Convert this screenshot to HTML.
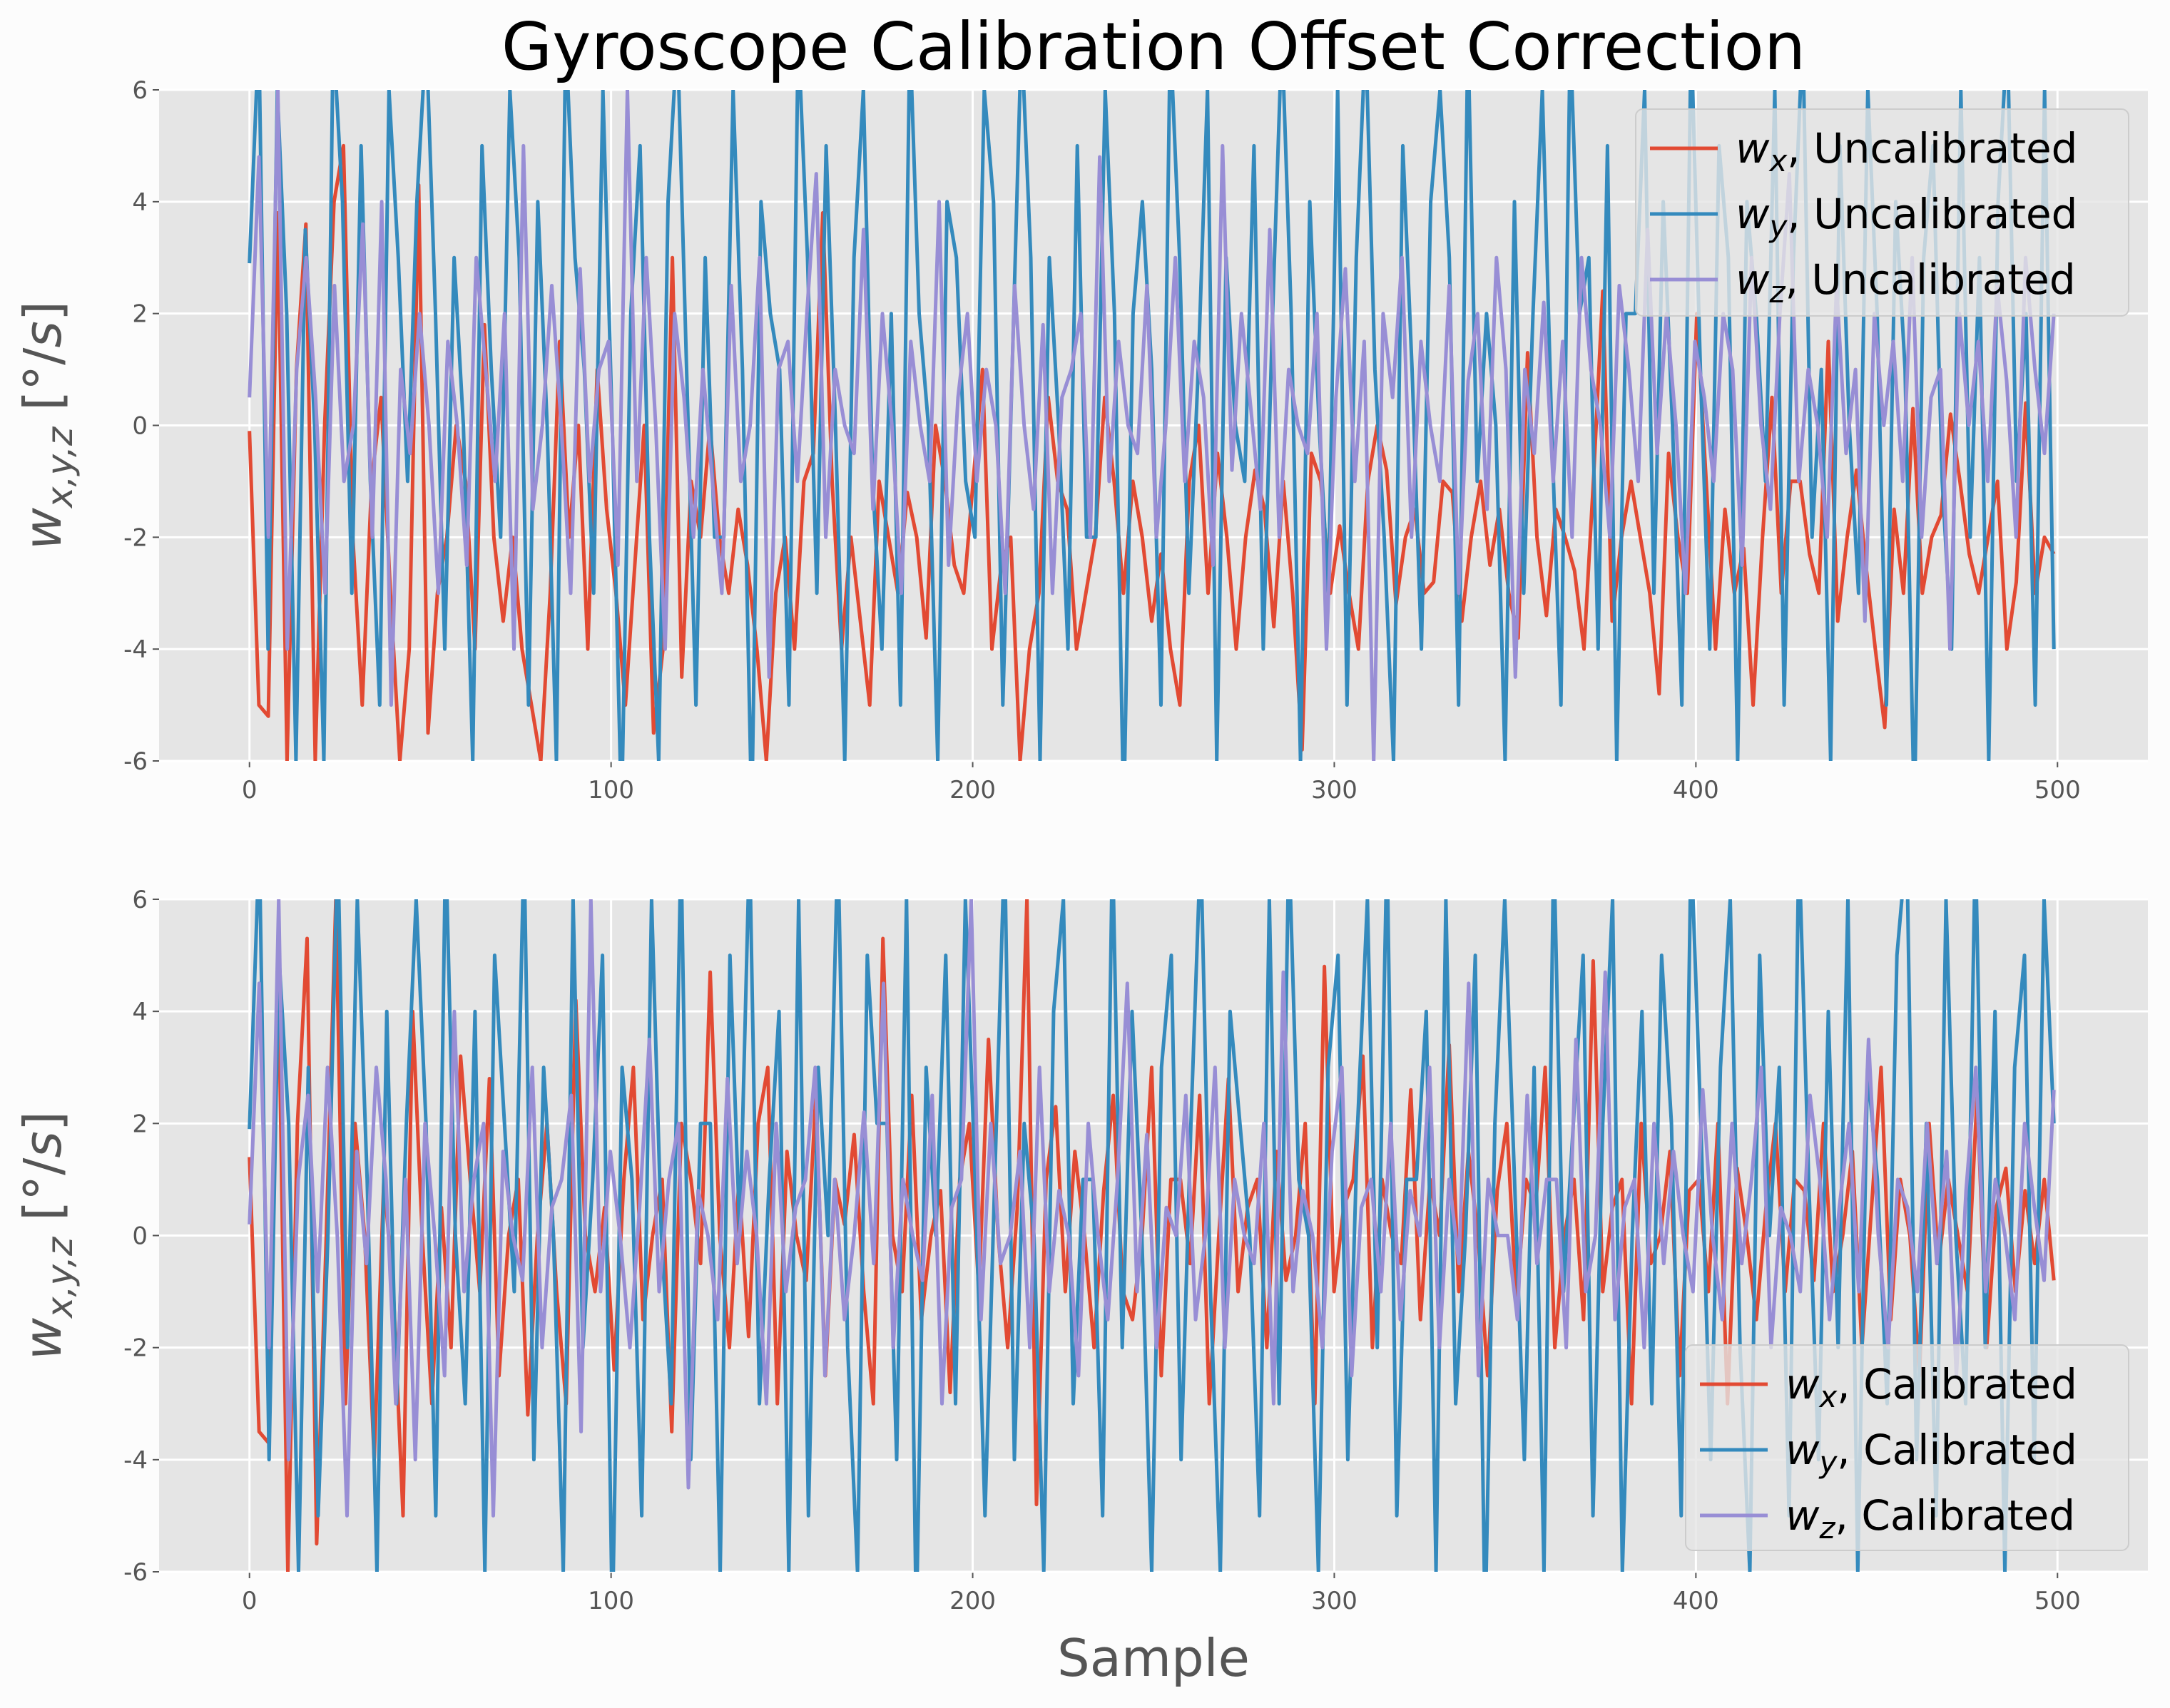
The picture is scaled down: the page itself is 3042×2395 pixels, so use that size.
<!DOCTYPE html>
<html><head><meta charset="utf-8"><style>
html,body{margin:0;padding:0;background:#fcfcfc;}
svg{display:block;font-family:"DejaVu Sans","Liberation Sans",sans-serif;}
</style></head><body>
<svg id="fig" width="3042" height="2395" viewBox="0 0 3042 2395" xmlns="http://www.w3.org/2000/svg">
<rect width="3042" height="2395" fill="#fcfcfc"/>
<text x="1617" y="97" font-size="92" text-anchor="middle" fill="#000">Gyroscope Calibration Offset Correction</text>
<text x="1617" y="2350" font-size="72" text-anchor="middle" fill="#555">Sample</text>
<g id="plots"></g>
</svg>
<script>
const NS='http://www.w3.org/2000/svg';
const xTicks=[0,100,200,300,400,500];
const yTicks=[-6,-4,-2,0,2,4,6];
const wxUncal=[-0.1,-5,-5.2,3.8,-6,1,3.6,-6,0,4,5,-2,-5,-1,0.5,-3,-6,-4,4.3,-5.5,-3,-2,0,-1,-4,1.8,-2,-3.5,-2,-4,-5,-6,-3,1.5,-2,0,-4,1,-1.5,-3,-5,-2.5,0,-5.5,-4,3,-4.5,-1,-2,0,-2,-3,-1.5,-2.5,-4,-6,-3,-2,-4,-1,-0.5,3.8,-1,-4,-2,-3.5,-5,-1,-2,-3,-1.2,-2,-3.8,0,-1,-2.5,-3,-1,1,-4,-2.5,-2,-6,-4,-3,0.5,-1,-1.5,-4,-3,-2,0.5,-1,-3,-1,-2,-3.5,-2.3,-4,-5,-1,0,-3,-0.5,-2,-4,-2,-0.8,-1.5,-3.6,-1,-3,-5.8,-0.5,-1,-3,-1.8,-3,-4,-1,0,-0.8,-3.2,-2,-1.5,-3,-2.8,-1,-1.2,-3.5,-2,-1,-2.5,-1.5,-3,-3.8,1.3,-2,-3.4,-1.5,-2,-2.6,-4,-1,2.4,-3.5,-2,-1,-2,-3,-4.8,-0.5,-2,-3,2,-1,-4,-1.5,-3,-2.2,-5,-2,0.5,-3,-1,-1,-2.3,-3,1.5,-3.5,-2,-0.8,-2.5,-4,-5.4,-1.5,-3,0.3,-3,-2,-1.6,0.2,-1,-2.3,-3,-2,-1,-4,-2.8,0.4,-3,-2,-2.3];
const wyUncal=[2.9,7,-4,6,2,-6,3.5,0,-6,7,4,-3,5,-1,-5,6,3,-1,4,7,2,-4,3,0,-6,5,1,-2,6,3,-5,4,0,-6,7,3,1,-3,6,0,-7,2,5,-2,-6,4,7,1,-5,3,-2,-2,6,1,-7,4,2,1,-5,7,3,-3,5,0,-6,3,6,-1,-4,2,-5,7,2,0,-6,4,3,-1,-2,6,4,-5,1,7,3,-6,3,0,-4,5,-2,-2,6,2,-7,2,4,1,-5,7,3,-3,1,6,-6,3,0,-1,5,-4,2,7,2,-6,4,0,-3,6,-5,3,7,1,-2,-6,5,1,-4,4,6,3,-5,7,-1,2,0,-6,4,-3,2,6,0,-5,7,2,3,-4,5,-6,2,2,6,-3,4,0,-5,7,1,-4,5,3,-6,4,2,-1,6,-5,3,7,-2,1,-6,5,0,-3,6,2,-5,4,1,-7,3,5,-1,-4,6,-2,3,-6,4,7,-1,2,-5,6,-4];
const wzUncal=[0.5,4.8,-2,6,-4,1,3,0.5,-3,2.5,-1,0,3.6,-2,4,-5,1,-0.5,2,0,-3,1.5,0,-2.5,3,1,-1,2,-4,5,-1.5,0,2.5,0,-3,2.8,-1,1,1.5,-2.5,6,-1,3,0,-4,2,0.5,-2,1,-1,-3,2.5,-1,0,3,-4.5,1,1.5,-1,2,4.5,-2,1,0,-0.5,3.5,-1.5,2,0,-3,1.5,0,-1,4,-2.5,0.5,2,-1,1,0,-3,2.5,0,-1.5,1.8,-3,0.5,1,2,-2,4.8,-1,1.5,0,-0.5,2.5,-2,0,3,-1,1.5,0.5,-2.5,5,-0.8,2,0.3,-1.5,3.5,-2,1,0,-0.5,2,-4,0.5,2.8,-1,1.5,-6,2,0.5,3,-2,1.5,0,-1,2.5,-3,0.8,2,-1.5,3,1,-4.5,1,-0.5,2.2,-1,1.5,-2,3,1,0,-2,2.5,1,-1,3.5,-0.5,2,0,-3,1.5,0.5,-1,2,1,-2.5,3,0,-1.5,2,4.5,-1,1,0,-2,2.5,-0.5,1,-3.5,2,0,1.5,-1,3,-2,0.5,1,-4,2,0,1.5,-1,2.5,0.8,-2,3,1,-0.5,2];
const wxCal=[1.4,-3.5,-3.7,4.8,-6,2,5.3,-5.5,0,6,-3,2,0,-4,1,-1,-5,4,0,-3,0.5,-2,3.2,1,-1,2.8,-2.5,0,1,-3.2,0,2,-1,-3,4.2,0,-1,0.5,-2.4,1,3,-1.5,0,1,-3.5,2,1,-0.5,4.7,0,-2,1,-1.8,2,3,-3,1.5,0,-0.8,2.5,-2.5,1,0.2,1.8,-1,-3,5.3,0,-1,2.5,-1.5,0,0.8,-2.8,1,2,-1,3.5,0,-2,0.5,6,-4.8,1,2.3,-1,1.5,0,-2,0.8,2.5,-1,-1.5,0,3,-2.5,1,1,-0.5,2.5,-3,0,2.8,-1,0.5,1,-2,1.5,-0.8,0,2,-3,4.8,-1,0.5,1,3.2,-2,1,0,-0.5,2.6,-1.5,1,0,3.4,-1,1.5,0,-2.5,0.8,2,-1.2,1,0.5,3,-2,0,1,-1.5,4.9,-1,0.5,1,-3,2,-0.5,0,1.5,-2.5,0.8,1,-1,2,-3,1.2,0,-1.5,0.5,2,-1,1,0.8,-0.8,2,-1,0,1.5,-2,0.5,3,-1.5,1,0,-2.5,2,-0.5,1,0,-1,2.5,-2,0.5,1.2,-1,0.8,-0.5,1,-0.8];
const wyCal=[1.9,7,-4,5,2,-6,3,-5,0,7,-2,6,1,-6,4,-3,2,6,2,-5,7,0,-3,4,-6,5,2,-1,7,-4,3,0,-6,6,-2,1,5,-7,3,1,-5,6,0,-3,7,-4,2,2,-6,5,0,7,-3,1,4,-6,6,-5,3,0,7,-2,-6,5,2,2,-4,6,-7,3,0,5,-3,6,1,-5,1,7,-4,2,0,-6,4,6,-3,1,1,-5,7,-2,4,0,-6,3,5,-4,2,7,-1,-6,4,2,0,-5,6,-3,7,1,0,-6,3,5,-4,2,6,-2,7,-5,1,1,4,-6,6,-3,0,5,-7,2,6,1,-4,3,-6,7,-1,2,5,-5,2,6,-6,0,4,-3,5,2,-5,7,2,-4,3,6,-2,-6,5,0,3,-5,7,1,-4,4,-2,6,-6,3,1,-3,5,7,-4,2,-5,6,0,-3,7,-2,4,-6,3,5,-4,6,2];
const wzCal=[0.2,4.5,-2,6,-4,1,2.5,-1,3,0,-5,1.5,-0.5,3,1,-3,1,-4,2,0,-2.5,4,-1,1,2,-5,1.5,0,-0.8,3,-2,0.5,1,2.5,-3.5,6,-1,1.5,0,-2,0.5,3.5,-1,1,2,-4.5,0.8,0,-1.5,2.8,-0.5,1.5,0,-3,2,-1,0.5,1,3,-2.5,1,-1.5,0,2.2,-0.5,4.5,-2,1,0,-0.8,2.5,-3,0.5,1,6,-1.5,2,-0.5,0,1.5,-2,3,-1,0.8,0,-2.5,2,0,-1.5,1,4.5,-1,1.8,-2,0.5,0,2.5,-1.5,0,3,-2,1,0,-0.5,2,-3,4.7,-1,0.8,0,-2,1.5,3,-2.5,0.5,1,-1,2,-1.5,0.8,0,3,-2,1,-0.5,4.5,-2.5,1,0,0,-1.5,2.5,-0.5,1,1,-2,3.5,-1,0,4.7,-1.5,0.5,1,-2,2,-0.5,1.5,0,-1,2.6,0,-1.5,2,-0.5,1,3,-2,0.5,0,-1,2.5,1,-1.5,0.5,2,-1,3.5,0,-2,1,0.5,-1,2,-0.5,1.5,-2.5,0.8,3,-1,1,0,-1.5,2,0.5,-0.8,2.6];
const L=223,R=3011,XMIN=-25,XMAX=525;
const sx=v=>L+(v-XMIN)/(XMAX-XMIN)*(R-L);
const colors={x:'#E24A33',y:'#348ABD',z:'#988ED5'};
const g=document.getElementById('plots');
function el(t,a,p){const e=document.createElementNS(NS,t);for(const k in a)e.setAttribute(k,a[k]);(p||g).appendChild(e);return e;}
function panel(idx,top,bot,series,label,legendBox){
  const sy=v=>bot-(v+6)/12*(bot-top);
  const grp=el('g',{});
  
  
  const bg=el('rect',{x:L,y:top,width:R-L,height:bot-top,fill:'#e5e5e5'},grp);
  
  
  const cp=el('clipPath',{id:'cp'+idx},grp);
  el('rect',{x:L,y:top,width:R-L,height:bot-top},cp);
  xTicks.forEach(t=>{
    const gl=el('line',{x1:sx(t),x2:sx(t),y1:top,y2:bot,stroke:'#fff','stroke-width':3},grp);
    
    
    el('line',{x1:sx(t),x2:sx(t),y1:bot,y2:bot+9,stroke:'#555','stroke-width':2},grp);
    const tx=el('text',{x:sx(t),y:bot+52,'font-size':34,'text-anchor':'middle',fill:'#555'},grp);
    tx.textContent=t;
    
    
  });
  yTicks.forEach(t=>{
    const gl=el('line',{x1:L,x2:R,y1:sy(t),y2:sy(t),stroke:'#fff','stroke-width':3},grp);
    
    
    el('line',{x1:L-9,x2:L,y1:sy(t),y2:sy(t),stroke:'#555','stroke-width':2},grp);
    const tx=el('text',{x:L-16,y:sy(t)+12,'font-size':34,'text-anchor':'end',fill:'#555'},grp);
    tx.textContent=t;
    
    
  });
  const lg=el('g',{'clip-path':'url(#cp'+idx+')'},grp);
  series.forEach(([k,arr])=>{
    const n=arr.length;
    const pts=arr.map((v,i)=>sx(i*499/(n-1)).toFixed(1)+','+sy(v).toFixed(1)).join(' ');
    const pl=el('polyline',{points:pts,fill:'none',stroke:colors[k],'stroke-width':5,'stroke-linejoin':'round'},lg);
    
    
  });
  const yl=el('text',{x:0,y:0,'font-size':72,'text-anchor':'middle',fill:'#555',transform:`translate(85,${(top+bot)/2}) rotate(-90)`},grp);
  yl.innerHTML='<tspan font-style="italic">w</tspan><tspan font-size="50" dy="16" font-style="italic">x,y,z</tspan><tspan dy="-16"> [°/</tspan><tspan font-style="italic">s</tspan>]';
  
  
  const [bx,by,bw,bh]=legendBox;
  const leg=el('g',{},grp);
  
  
  el('rect',{x:bx,y:by,width:bw,height:bh,rx:10,fill:'rgba(229,229,229,0.8)',stroke:'#ccc','stroke-width':2},leg);
  ['x','y','z'].forEach((k,i)=>{
    const cy=by+55+i*92;
    el('line',{x1:bx+20,x2:bx+115,y1:cy,y2:cy,stroke:colors[k],'stroke-width':5},leg);
    const t=el('text',{x:bx+140,y:cy+20,'font-size':58,fill:'#000'},leg);
    t.innerHTML='<tspan font-style="italic">w</tspan><tspan font-style="italic" font-size="42" dy="12">'+k+'</tspan><tspan dy="-12">, '+label+'</tspan>';
    
    
  });
}
panel(0,126,1067,[['x',wxUncal],['y',wyUncal],['z',wzUncal]],'Uncalibrated',[2293,153,691,290]);
panel(1,1261,2204,[['x',wxCal],['y',wyCal],['z',wzCal]],'Calibrated',[2363,1886,621,288]);
</script>
</body></html>
